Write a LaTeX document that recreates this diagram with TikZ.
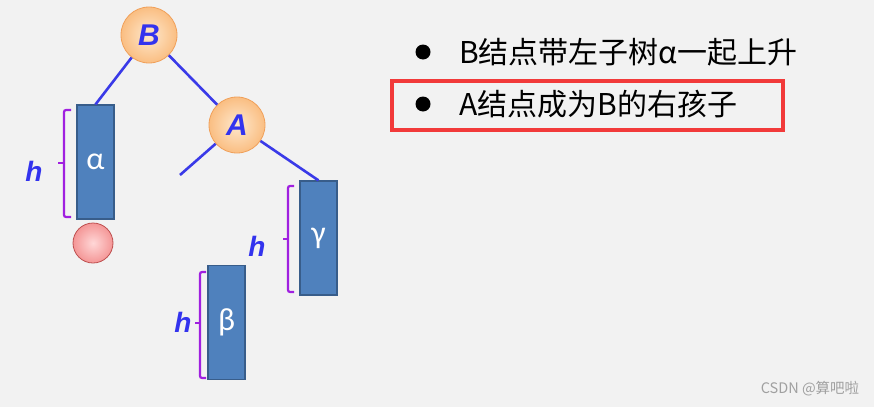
\documentclass[tikz,border=0pt]{standalone}
\usepackage{fontspec}
\setmainfont{Carlito}
\newfontfamily\cjk{Noto Sans CJK SC}
\newfontfamily\arialike{Liberation Sans}
\definecolor{bgc}{HTML}{F2F2F2}
\definecolor{hblue}{HTML}{3333EE}
\definecolor{edgeblue}{HTML}{3A3AE8}
\definecolor{subfill}{HTML}{4F81BD}
\definecolor{subdraw}{HTML}{385D8A}
\definecolor{brk}{HTML}{A020E0}
\definecolor{redbox}{HTML}{F23A3A}
\begin{document}
\begin{tikzpicture}[x=1pt,y=-1pt,
  ball/.style={circle, minimum size=56pt, inner sep=0pt, draw={rgb,255:red,240;green,160;blue,90}, line width=0.8pt,
    inner color={rgb,255:red,254;green,232;blue,205}, outer color={rgb,255:red,250;green,190;blue,130},
    text=hblue, font=\fontsize{30}{30}\selectfont\arialike\bfseries\itshape},
  leafball/.style={circle, minimum size=40pt, inner sep=0pt, draw={rgb,255:red,190;green,80;blue,80}, line width=0.8pt,
    inner color={rgb,255:red,255;green,215;blue,215}, outer color={rgb,255:red,244;green,150;blue,150}},
  subtree/.style={rectangle, minimum width=37pt, minimum height=114pt, inner sep=0pt, fill=subfill, draw=subdraw,
    line width=1.2pt, text=white, font=\fontsize{32}{32}\selectfont},
  edge/.style={draw=edgeblue, line width=2.6pt},
  bracket/.style={draw=brk, line width=2.2pt, rounded corners=2pt},
  hlabel/.style={text=hblue, font=\fontsize{28}{28}\selectfont\arialike\bfseries\itshape, inner sep=0pt},
  bullettext/.style={anchor=west, inner sep=0pt, font=\fontsize{30}{30}\selectfont\cjk},
  dot/.style={circle, fill=black, minimum size=15pt, inner sep=0pt}]
\fill[bgc] (0,0) rectangle (874,407);
\useasboundingbox (0,0) rectangle (874,407);
% nodes
\node[subtree] (alpha) at (95.5,162) {α};
\node[subtree] (gamma) at (318.5,238) {γ};
\node[subtree] (beta) at (226.5,322.5) {β};
\node[leafball] (leaf) at (93,243) {};
\node[ball] (B) at (149,35) {B};
\node[ball] (A) at (237,125) {A};
\coordinate (Aleft) at (180,175);
% edges
\draw[edge] (B) -- (alpha.north);
\draw[edge] (B) -- (A);
\draw[edge] (A) -- (Aleft);
\draw[edge] (A) -- (gamma.north);
% brackets
\draw[bracket] (71,110) -- (64,110) -- (64,217) -- (71,217);
\draw[bracket] (64,163) -- (58,163);
\draw[bracket] (294,186) -- (288,186) -- (288,292) -- (294,292);
\draw[bracket] (288,239) -- (283,239);
\draw[bracket] (206,272) -- (200,272) -- (200,378) -- (206,378);
\draw[bracket] (200,323) -- (195,323);
% h labels
\node[hlabel] (h1) at (34,171) {h};
\node[hlabel] (h2) at (257,246) {h};
\node[hlabel] (h3) at (183,322) {h};
% text
\node[dot] (d1) at (423,52) {};
\node[dot] (d2) at (423,104) {};
\node[bullettext] (t1) at (459,52) {B结点带左子树α一起上升};
\node[bullettext] (t2) at (459,104) {A结点成为B的右孩子};
\node[draw=redbox, line width=4pt, minimum width=391pt, minimum height=49pt, inner sep=0pt] (box) at (587.5,105.5) {};
\node[text={rgb,255:red,160;green,160;blue,160}, font=\fontsize{14.5}{14.5}\selectfont\cjk, inner sep=0pt] (wm) at (810,389) {CSDN @算吧啦};
\end{tikzpicture}
\end{document}
